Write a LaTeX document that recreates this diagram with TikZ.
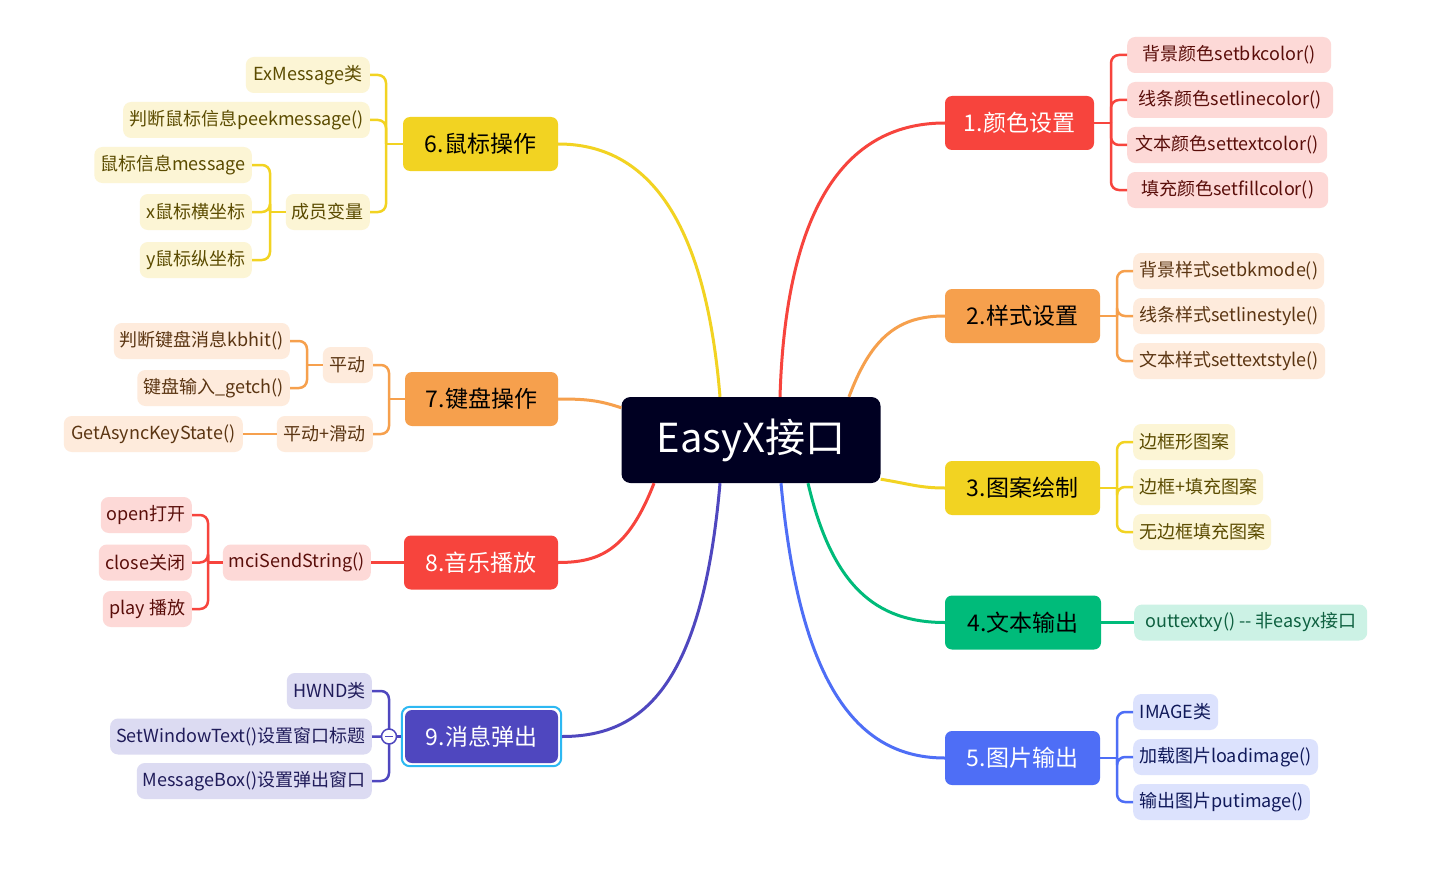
\documentclass[tikz,border=0pt]{standalone}
\usepackage{fontspec}
\setmainfont{Noto Sans CJK SC}
\usetikzlibrary{calc,fit}
\definecolor{cRed}{HTML}{F7443D}
\definecolor{cOra}{HTML}{F6A04D}
\definecolor{cYel}{HTML}{F2D322}
\definecolor{cGre}{HTML}{00BB7A}
\definecolor{cBlu}{HTML}{4E6EF6}
\definecolor{cPur}{HTML}{4F47BF}
\definecolor{cNav}{HTML}{000022}
\definecolor{cSel}{HTML}{2DB8F2}
\definecolor{fRed}{HTML}{FDD9D7}
\definecolor{fOra}{HTML}{FEEBDC}
\definecolor{fYel}{HTML}{FCF5D5}
\definecolor{fGre}{HTML}{CCF2E5}
\definecolor{fBlu}{HTML}{DCE2FD}
\definecolor{fPur}{HTML}{DCDBF2}
\definecolor{tRed}{HTML}{5A0E0A}
\definecolor{tOra}{HTML}{5B3512}
\definecolor{tYel}{HTML}{5B4B00}
\definecolor{tGre}{HTML}{0E6040}
\definecolor{tBlu}{HTML}{10195A}
\definecolor{tPur}{HTML}{201C5A}
\tikzset{
  leaf/.style={rounded corners=8pt, minimum height=36pt, inner xsep=6pt, inner ysep=0pt, font=\fontsize{18}{21}\selectfont},
  mainbox/.style={rounded corners=7pt, minimum height=54pt, minimum width=155pt, inner sep=0pt, font=\fontsize{23}{26}\selectfont},
  trunk/.style={line width=3pt},
  twig/.style={line width=2.5pt, rounded corners=8pt},
}
\begin{document}
\begin{tikzpicture}[x=1pt,y=-1pt]
\useasboundingbox[fill=white] (0,0) rectangle (1448,880);

% central
\node[fill=cNav, text=white, rounded corners=9pt, minimum width=259pt, minimum height=86pt, font=\fontsize{40}{44}\selectfont] (c) at (751,440) {EasyX接口};

% main nodes
\node[mainbox, fill=cRed, text=white, minimum width=149pt] (m1) at (1019.5,123) {1.颜色设置};
\node[mainbox, fill=cOra, text=black] (m2) at (1022.5,316) {2.样式设置};
\node[mainbox, fill=cYel, text=black] (m3) at (1022.5,488) {3.图案绘制};
\node[mainbox, fill=cGre, text=black, minimum width=156pt] (m4) at (1023,622.5) {4.文本输出};
\node[mainbox, fill=cBlu, text=white] (m5) at (1022.5,758) {5.图片输出};
\node[mainbox, fill=cYel, text=black] (m6) at (480.5,144) {6.鼠标操作};
\node[mainbox, fill=cOra, text=black, minimum width=153pt] (m7) at (481.5,399) {7.键盘操作};
\node[mainbox, fill=cRed, text=white, minimum width=154pt] (m8) at (481,562.5) {8.音乐播放};
\node[mainbox, fill=cPur, text=white, minimum width=153pt, minimum height=53pt] (m9) at (481.5,736.5) {9.消息弹出};
\node[draw=cSel, line width=2pt, rounded corners=8pt, inner sep=3pt, fit=(m9)] (sel9) {};

% trunk curves
\draw[trunk, cRed] ([xshift=29pt]c.north) .. controls (786,200) and (850,123) .. (m1.west);
\draw[trunk, cOra] ([xshift=98pt]c.north) .. controls (872,335) and (900,316) .. (m2.west);
\draw[trunk, cYel] ([yshift=4pt]c.south east) .. controls (910,484) and (920,488) .. (m3.west);
\draw[trunk, cGre] ([xshift=57pt]c.south) .. controls (832,585) and (875,622.5) .. (m4.west);
\draw[trunk, cBlu] ([xshift=30pt]c.south) .. controls (800,690) and (860,758) .. (m5.west);
\draw[trunk, cYel] ([xshift=-31pt]c.north) .. controls (705,215) and (645,144) .. (m6.east);
\draw[trunk, cOra] ([yshift=-11pt]c.north west) .. controls (598,400) and (585,399) .. (m7.east);
\draw[trunk, cRed] ([xshift=-97pt]c.south) .. controls (628,550) and (600,562.5) .. (m8.east);
\draw[trunk, cPur] ([xshift=-31pt]c.south) .. controls (702,690) and (640,736.5) .. (sel9.east);

% ---- group 1
\node[leaf, fill=fRed, text=tRed, anchor=west, minimum width=204pt] (l11) at (1127,55) {背景颜色setbkcolor()};
\node[leaf, fill=fRed, text=tRed, anchor=west, minimum width=206pt] (l12) at (1127,100) {线条颜色setlinecolor()};
\node[leaf, fill=fRed, text=tRed, anchor=west, minimum width=200pt] (l13) at (1127,145) {文本颜色settextcolor()};
\node[leaf, fill=fRed, text=tRed, anchor=west, minimum width=201pt] (l14) at (1127,190) {填充颜色setfillcolor()};
\coordinate (j1) at (1111,123);
\draw[twig, cRed] (m1.east) -- (j1);
\foreach \n in {l11,l12,l13,l14} \draw[twig, cRed] (j1) |- (\n.west);

% ---- group 2
\node[leaf, fill=fOra, text=tOra, anchor=west, minimum width=188pt] (l21) at (1133,271) {背景样式setbkmode()};
\node[leaf, fill=fOra, text=tOra, anchor=west, minimum width=189pt] (l22) at (1133,316) {线条样式setlinestyle()};
\node[leaf, fill=fOra, text=tOra, anchor=west, minimum width=192pt] (l23) at (1133,361) {文本样式settextstyle()};
\coordinate (j2) at (1117,316);
\draw[twig, cOra] (m2.east) -- (j2);
\foreach \n in {l21,l22,l23} \draw[twig, cOra] (j2) |- (\n.west);

% ---- group 3
\node[leaf, fill=fYel, text=tYel, anchor=west, minimum width=101pt] (l31) at (1133,442) {边框形图案};
\node[leaf, fill=fYel, text=tYel, anchor=west, minimum width=130pt] (l32) at (1133,487) {边框+填充图案};
\node[leaf, fill=fYel, text=tYel, anchor=west, minimum width=136pt] (l33) at (1133,532) {无边框填充图案};
\coordinate (j3) at (1117,488);
\draw[twig, cYel] (m3.east) -- (j3);
\foreach \n in {l31,l32,l33} \draw[twig, cYel] (j3) |- (\n.west);

% ---- group 4
\node[leaf, fill=fGre, text=tGre, anchor=west, minimum width=233pt] (l41) at (1134,622.5) {outtextxy() -{}- 非easyx接口};
\draw[twig, cGre] (m4.east) -- (l41.west);

% ---- group 5
\node[leaf, fill=fBlu, text=tBlu, anchor=west, minimum width=85pt] (l51) at (1133,712) {IMAGE类};
\node[leaf, fill=fBlu, text=tBlu, anchor=west, minimum width=183pt] (l52) at (1133,757) {加载图片loadimage()};
\node[leaf, fill=fBlu, text=tBlu, anchor=west, minimum width=174pt] (l53) at (1133,802) {输出图片putimage()};
\coordinate (j5) at (1117,758);
\draw[twig, cBlu] (m5.east) -- (j5);
\foreach \n in {l51,l52,l53} \draw[twig, cBlu] (j5) |- (\n.west);

% ---- group 6
\node[leaf, fill=fYel, text=tYel, anchor=east, minimum width=124pt] (l61) at (370,75) {ExMessage类};
\node[leaf, fill=fYel, text=tYel, anchor=east, minimum width=246pt] (l62) at (370,120) {判断鼠标信息peekmessage()};
\node[leaf, fill=fYel, text=tYel, anchor=east, minimum width=84pt] (l63) at (370,212) {成员变量};
\coordinate (j6) at (386,144);
\draw[twig, cYel] (m6.west) -- (j6);
\foreach \n in {l61,l62,l63} \draw[twig, cYel] (j6) |- (\n.east);
\node[leaf, fill=fYel, text=tYel, anchor=east, minimum width=156pt] (l631) at (252,165) {鼠标信息message};
\node[leaf, fill=fYel, text=tYel, anchor=east, minimum width=112pt] (l632) at (252,212) {x鼠标横坐标};
\node[leaf, fill=fYel, text=tYel, anchor=east, minimum width=112pt] (l633) at (252,260) {y鼠标纵坐标};
\coordinate (j6b) at (270,212);
\draw[twig, cYel] (l63.west) -- (j6b);
\foreach \n in {l631,l632,l633} \draw[twig, cYel] (j6b) |- (\n.east);

% ---- group 7
\node[leaf, fill=fOra, text=tOra, anchor=east, minimum width=50pt] (l71) at (373,365) {平动};
\node[leaf, fill=fOra, text=tOra, anchor=east, minimum width=96pt] (l72) at (373,434) {平动+滑动};
\coordinate (j7) at (389,399);
\draw[twig, cOra] (m7.west) -- (j7);
\foreach \n in {l71,l72} \draw[twig, cOra] (j7) |- (\n.east);
\node[leaf, fill=fOra, text=tOra, anchor=east, minimum width=173pt] (l711) at (290,341) {判断键盘消息kbhit()};
\node[leaf, fill=fOra, text=tOra, anchor=east, minimum width=149pt] (l712) at (290,388) {键盘输入\_getch()};
\coordinate (j7a) at (307,365);
\draw[twig, cOra] (l71.west) -- (j7a);
\foreach \n in {l711,l712} \draw[twig, cOra] (j7a) |- (\n.east);
\node[leaf, fill=fOra, text=tOra, anchor=east, minimum width=179pt] (l721) at (243,434) {GetAsyncKeyState()};
\draw[twig, cOra] (l72.west) -- (l721.east);

% ---- group 8
\node[leaf, fill=fRed, text=tRed, anchor=east, minimum width=145pt] (l81) at (371,562.5) {mciSendString()};
\draw[twig, cRed] (m8.west) -- (l81.east);
\node[leaf, fill=fRed, text=tRed, anchor=east, minimum width=91pt] (l811) at (192,515) {open打开};
\node[leaf, fill=fRed, text=tRed, anchor=east, minimum width=93pt] (l812) at (192,562.5) {close关闭};
\node[leaf, fill=fRed, text=tRed, anchor=east, minimum width=89pt] (l813) at (192,609) {play 播放};
\coordinate (j8) at (208,562.5);
\draw[twig, cRed] (l81.west) -- (j8);
\foreach \n in {l811,l812,l813} \draw[twig, cRed] (j8) |- (\n.east);

% ---- group 9
\node[leaf, fill=fPur, text=tPur, anchor=east, minimum width=85pt] (l91) at (372,691) {HWND类};
\node[leaf, fill=fPur, text=tPur, anchor=east, minimum width=258pt] (l92) at (372,736.5) {SetWindowText()设置窗口标题};
\node[leaf, fill=fPur, text=tPur, anchor=east, minimum width=235pt] (l93) at (372,781) {MessageBox()设置弹出窗口};
\coordinate (j9) at (389,736.5);
\draw[twig, cPur] (sel9.west) -- (j9);
\foreach \n in {l91,l92,l93} \draw[twig, cPur] (j9) |- (\n.east);
\node[circle, draw=cPur, fill=white, line width=1.5pt, minimum size=15pt, inner sep=0pt] (col9) at (j9) {};
\draw[cPur, line width=1.5pt] ([xshift=-4pt]col9.center) -- ([xshift=4pt]col9.center);
\end{tikzpicture}
\end{document}
